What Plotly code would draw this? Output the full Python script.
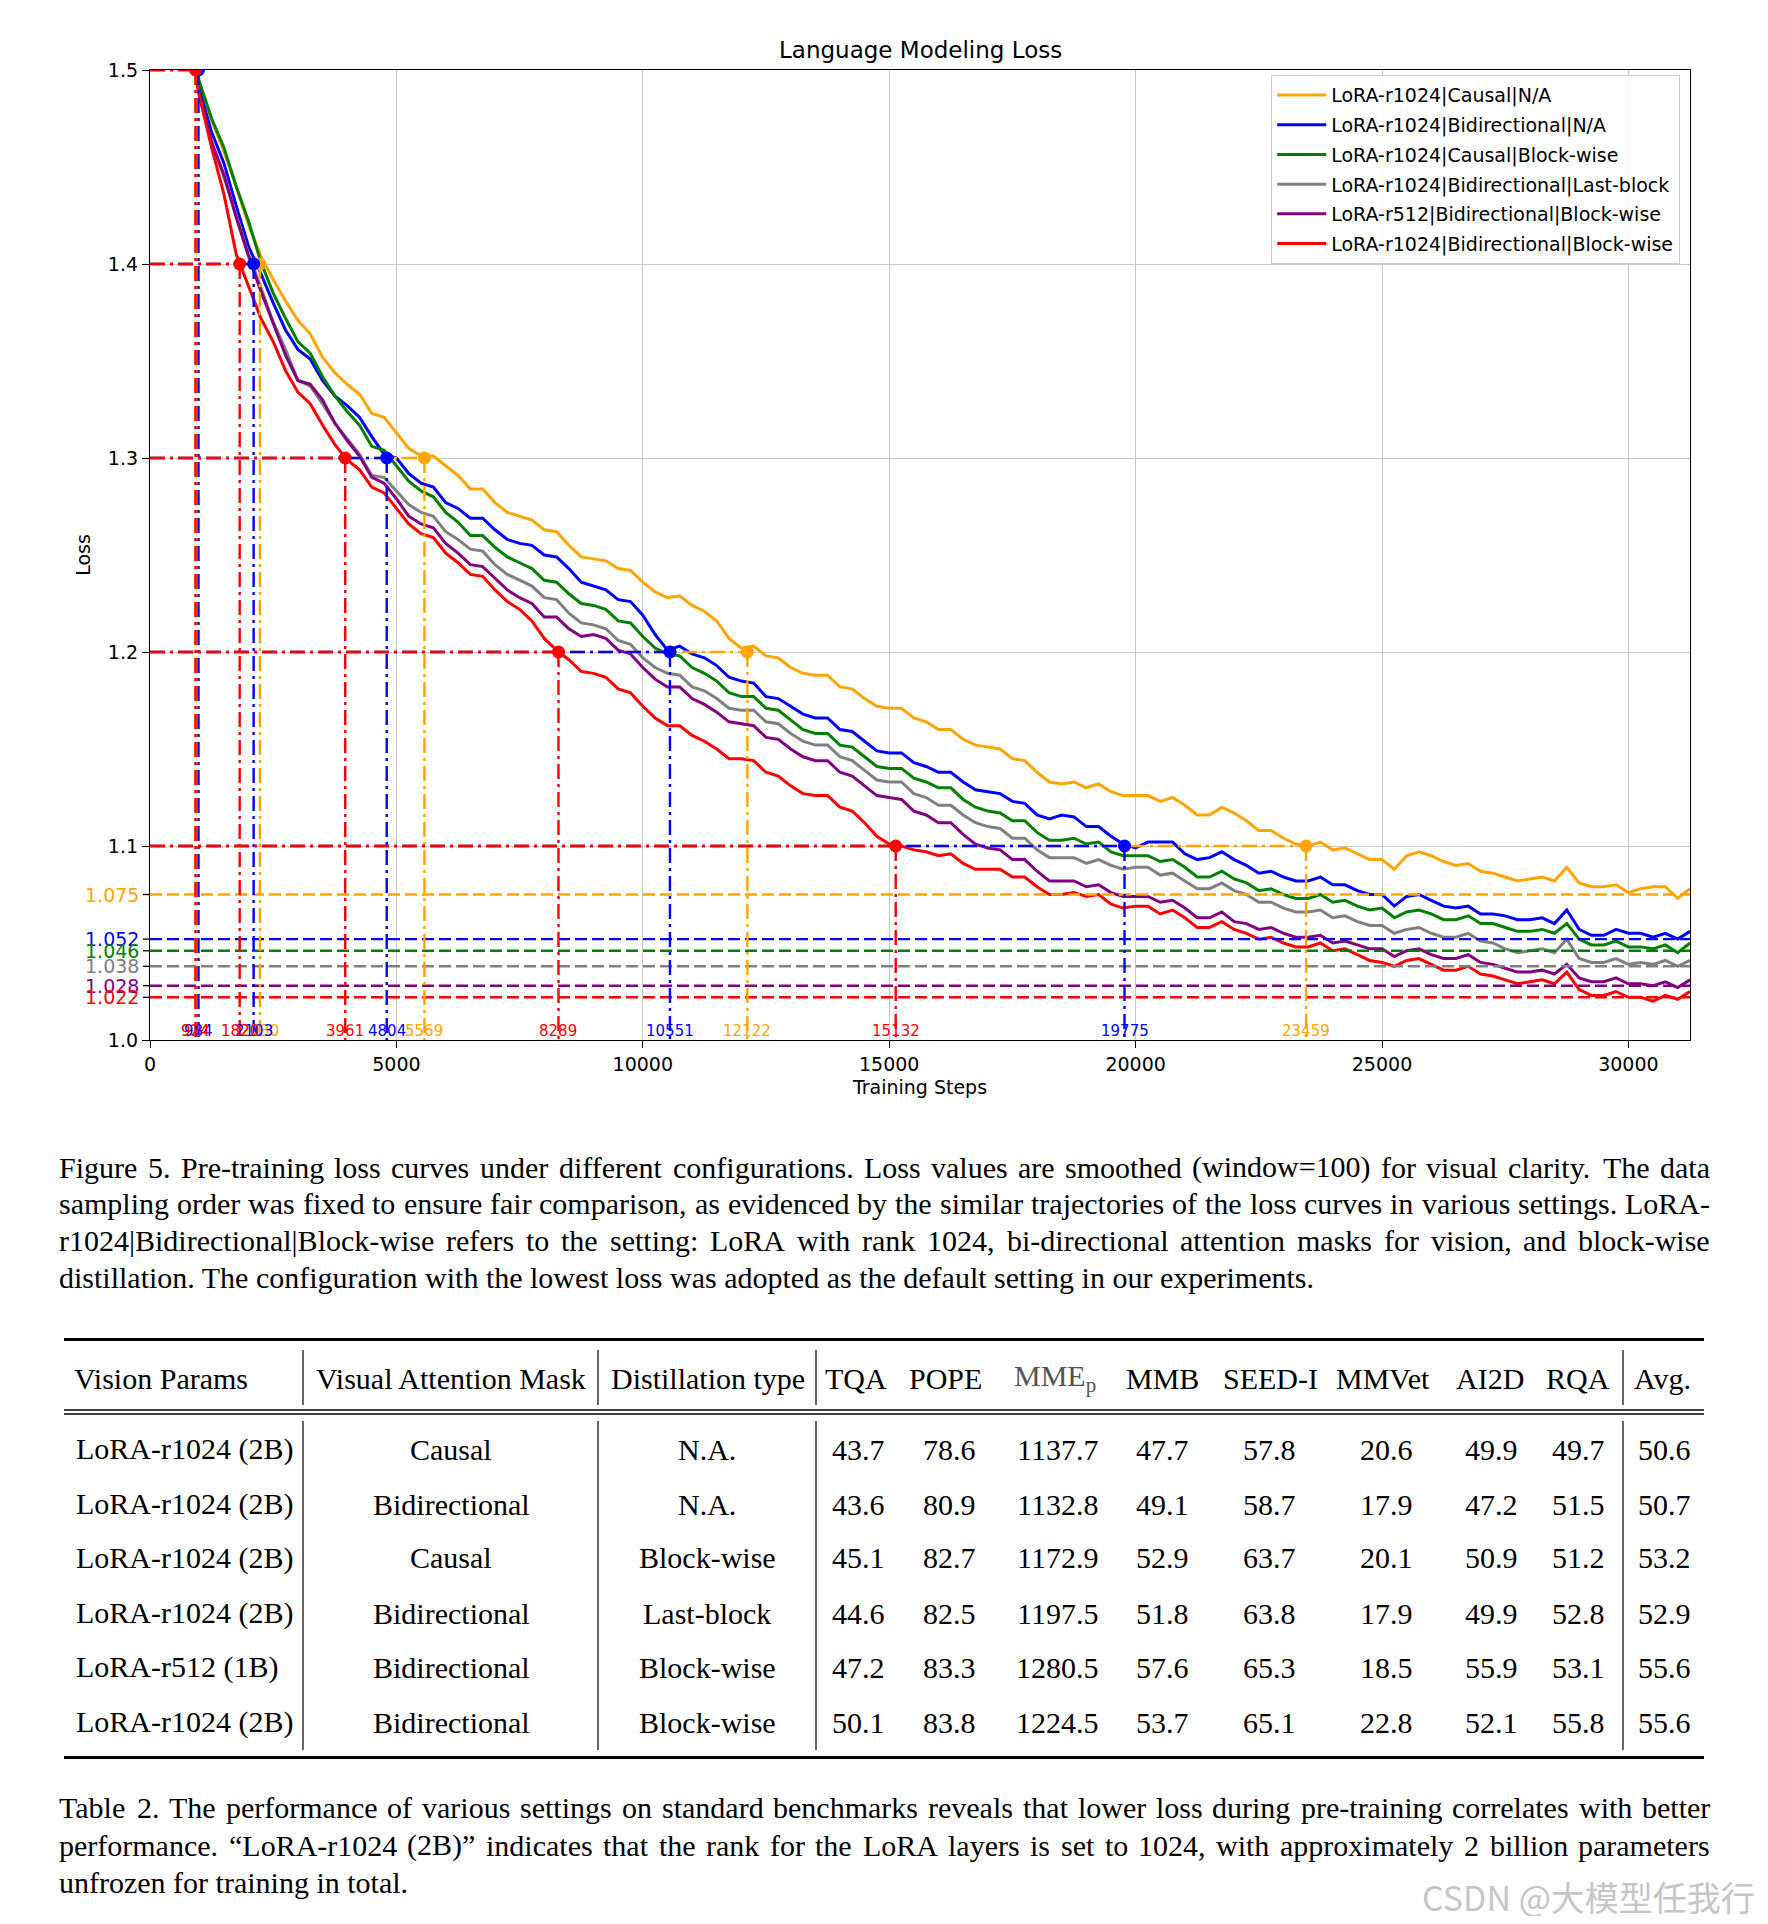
import plotly.graph_objects as go

# ---------------- data ----------------
steps = [924, 1000, 1250, 1500, 1750, 2000, 2250, 2500, 2750,
         3000, 3250, 3500, 3750, 4000, 4250, 4500, 4750,
         5000, 5250, 5500, 5750, 6000, 6250, 6500, 6750,
         7000, 7250, 7500, 7750, 8000, 8250, 8500, 8750,
         9000, 9250, 9500, 9750, 10000, 10250, 10500, 10750,
         11000, 11250, 11500, 11750, 12000, 12250, 12500, 12750,
         13000, 13250, 13500, 13750, 14000, 14250, 14500, 14750,
         15000, 15250, 15500, 15750, 16000, 16250, 16500, 16750,
         17000, 17250, 17500, 17750, 18000, 18250, 18500, 18750,
         19000, 19250, 19500, 19750, 20000, 20250, 20500, 20750,
         21000, 21250, 21500, 21750, 22000, 22250, 22500, 22750,
         23000, 23250, 23500, 23750, 24000, 24250, 24500, 24750,
         25000, 25250, 25500, 25750, 26000, 26250, 26500, 26750,
         27000, 27250, 27500, 27750, 28000, 28250, 28500, 28750,
         29000, 29250, 29500, 29750, 30000, 30250, 30500, 30750,
         31000, 31250]

loss_orange = [1.500, 1.493, 1.474, 1.458, 1.440, 1.420, 1.404, 1.392, 1.381,
               1.371, 1.364, 1.352, 1.344, 1.338, 1.333, 1.323, 1.321,
               1.313, 1.305, 1.301, 1.301, 1.296, 1.291, 1.284, 1.284,
               1.277, 1.272, 1.270, 1.268, 1.263, 1.262, 1.255, 1.249,
               1.248, 1.247, 1.243, 1.242, 1.236, 1.231, 1.228, 1.229,
               1.224, 1.221, 1.216, 1.207, 1.202, 1.203, 1.198, 1.197,
               1.192, 1.189, 1.188, 1.188, 1.182, 1.181, 1.176, 1.172,
               1.171, 1.171, 1.166, 1.164, 1.160, 1.160, 1.155, 1.152,
               1.151, 1.150, 1.145, 1.144, 1.138, 1.133, 1.132, 1.133,
               1.130, 1.132, 1.128, 1.126, 1.126, 1.126, 1.123, 1.125,
               1.121, 1.116, 1.116, 1.120, 1.117, 1.113, 1.108, 1.108,
               1.104, 1.101, 1.100, 1.102, 1.098, 1.099, 1.096, 1.093,
               1.093, 1.088, 1.095, 1.097, 1.095, 1.092, 1.090, 1.091,
               1.087, 1.086, 1.084, 1.082, 1.083, 1.084, 1.082, 1.089,
               1.081, 1.079, 1.079, 1.080, 1.076, 1.078, 1.079, 1.079,
               1.073, 1.078]

loss_blue = [1.500, 1.490, 1.468, 1.452, 1.430, 1.409, 1.395, 1.380, 1.366,
             1.356, 1.351, 1.340, 1.332, 1.327, 1.321, 1.311, 1.302,
             1.300, 1.292, 1.287, 1.285, 1.277, 1.274, 1.269, 1.269,
             1.263, 1.258, 1.256, 1.255, 1.250, 1.249, 1.243, 1.236,
             1.234, 1.232, 1.227, 1.226, 1.219, 1.209, 1.201, 1.203,
             1.199, 1.197, 1.193, 1.187, 1.185, 1.184, 1.177, 1.176,
             1.172, 1.168, 1.166, 1.166, 1.160, 1.159, 1.154, 1.149,
             1.148, 1.148, 1.143, 1.141, 1.138, 1.138, 1.133, 1.129,
             1.128, 1.127, 1.123, 1.122, 1.116, 1.114, 1.116, 1.115,
             1.110, 1.110, 1.105, 1.101, 1.099, 1.102, 1.102, 1.102,
             1.096, 1.093, 1.094, 1.097, 1.093, 1.090, 1.086, 1.087,
             1.084, 1.082, 1.082, 1.084, 1.080, 1.080, 1.077, 1.075,
             1.075, 1.069, 1.074, 1.075, 1.072, 1.069, 1.068, 1.069,
             1.065, 1.065, 1.064, 1.062, 1.062, 1.063, 1.060, 1.067,
             1.057, 1.054, 1.054, 1.057, 1.055, 1.055, 1.053, 1.055,
             1.052, 1.056]

loss_green = [1.500, 1.494, 1.475, 1.460, 1.440, 1.422, 1.401, 1.385, 1.372,
              1.360, 1.354, 1.342, 1.332, 1.324, 1.317, 1.306, 1.304,
              1.296, 1.288, 1.283, 1.280, 1.272, 1.267, 1.260, 1.260,
              1.254, 1.249, 1.246, 1.243, 1.237, 1.236, 1.230, 1.225,
              1.224, 1.222, 1.216, 1.215, 1.208, 1.202, 1.199, 1.198,
              1.192, 1.189, 1.185, 1.179, 1.177, 1.177, 1.171, 1.170,
              1.165, 1.160, 1.158, 1.158, 1.152, 1.151, 1.146, 1.141,
              1.140, 1.140, 1.135, 1.133, 1.130, 1.130, 1.124, 1.120,
              1.118, 1.117, 1.113, 1.113, 1.107, 1.103, 1.103, 1.104,
              1.101, 1.102, 1.097, 1.095, 1.095, 1.095, 1.092, 1.093,
              1.089, 1.084, 1.084, 1.087, 1.083, 1.081, 1.077, 1.078,
              1.075, 1.073, 1.073, 1.075, 1.071, 1.072, 1.069, 1.067,
              1.068, 1.063, 1.066, 1.067, 1.065, 1.062, 1.062, 1.064,
              1.060, 1.060, 1.058, 1.056, 1.056, 1.057, 1.055, 1.060,
              1.052, 1.049, 1.049, 1.051, 1.048, 1.048, 1.047, 1.049,
              1.045, 1.050]

loss_gray = [1.498, 1.487, 1.462, 1.445, 1.425, 1.405, 1.388, 1.370, 1.356,
             1.340, 1.337, 1.328, 1.318, 1.310, 1.302, 1.291, 1.290,
             1.283, 1.276, 1.272, 1.270, 1.262, 1.258, 1.253, 1.252,
             1.245, 1.240, 1.237, 1.234, 1.228, 1.227, 1.220, 1.215,
             1.214, 1.212, 1.206, 1.204, 1.197, 1.192, 1.189, 1.188,
             1.182, 1.180, 1.176, 1.171, 1.170, 1.170, 1.164, 1.163,
             1.158, 1.154, 1.152, 1.152, 1.146, 1.144, 1.139, 1.134,
             1.133, 1.133, 1.127, 1.125, 1.121, 1.121, 1.116, 1.112,
             1.110, 1.109, 1.104, 1.104, 1.098, 1.094, 1.094, 1.094,
             1.091, 1.093, 1.090, 1.088, 1.089, 1.089, 1.085, 1.086,
             1.082, 1.078, 1.078, 1.081, 1.077, 1.075, 1.071, 1.071,
             1.068, 1.066, 1.066, 1.067, 1.063, 1.064, 1.061, 1.059,
             1.059, 1.055, 1.057, 1.058, 1.055, 1.053, 1.053, 1.055,
             1.051, 1.050, 1.047, 1.045, 1.046, 1.047, 1.045, 1.052,
             1.042, 1.040, 1.040, 1.042, 1.039, 1.040, 1.039, 1.041,
             1.038, 1.041]

loss_purple = [1.499, 1.487, 1.463, 1.446, 1.424, 1.404, 1.386, 1.370, 1.353,
               1.340, 1.338, 1.330, 1.318, 1.309, 1.301, 1.290, 1.287,
               1.279, 1.270, 1.266, 1.264, 1.256, 1.251, 1.245, 1.244,
               1.238, 1.232, 1.228, 1.225, 1.218, 1.218, 1.212, 1.208,
               1.209, 1.207, 1.201, 1.199, 1.192, 1.186, 1.182, 1.182,
               1.176, 1.173, 1.169, 1.164, 1.163, 1.162, 1.156, 1.155,
               1.150, 1.146, 1.144, 1.144, 1.138, 1.136, 1.131, 1.126,
               1.125, 1.124, 1.118, 1.116, 1.112, 1.112, 1.106, 1.101,
               1.099, 1.098, 1.093, 1.093, 1.087, 1.082, 1.082, 1.082,
               1.079, 1.080, 1.076, 1.074, 1.074, 1.074, 1.071, 1.072,
               1.068, 1.063, 1.063, 1.066, 1.061, 1.060, 1.057, 1.058,
               1.055, 1.053, 1.053, 1.054, 1.050, 1.051, 1.049, 1.047,
               1.047, 1.043, 1.046, 1.047, 1.044, 1.042, 1.042, 1.044,
               1.040, 1.039, 1.037, 1.035, 1.035, 1.036, 1.034, 1.039,
               1.032, 1.030, 1.030, 1.032, 1.029, 1.029, 1.028, 1.030,
               1.027, 1.031]

loss_red = [1.500, 1.487, 1.460, 1.436, 1.405, 1.389, 1.372, 1.360, 1.345,
            1.334, 1.328, 1.317, 1.307, 1.299, 1.294, 1.285, 1.282,
            1.274, 1.266, 1.261, 1.259, 1.251, 1.246, 1.240, 1.239,
            1.232, 1.226, 1.222, 1.216, 1.207, 1.201, 1.196, 1.190,
            1.189, 1.187, 1.181, 1.179, 1.172, 1.166, 1.162, 1.162,
            1.157, 1.154, 1.150, 1.145, 1.145, 1.144, 1.138, 1.136,
            1.131, 1.127, 1.126, 1.126, 1.120, 1.118, 1.112, 1.105,
            1.101, 1.100, 1.098, 1.097, 1.095, 1.096, 1.091, 1.088,
            1.088, 1.088, 1.084, 1.084, 1.079, 1.075, 1.075, 1.076,
            1.074, 1.075, 1.070, 1.068, 1.069, 1.069, 1.065, 1.067,
            1.063, 1.058, 1.058, 1.061, 1.057, 1.055, 1.052, 1.053,
            1.050, 1.048, 1.048, 1.050, 1.046, 1.047, 1.044, 1.041,
            1.040, 1.038, 1.041, 1.042, 1.039, 1.036, 1.036, 1.038,
            1.034, 1.033, 1.031, 1.029, 1.030, 1.031, 1.029, 1.035,
            1.026, 1.023, 1.023, 1.025, 1.022, 1.022, 1.020, 1.023,
            1.021, 1.025]

series_names = ["LoRA-r1024|Causal|N/A", "LoRA-r1024|Bidirectional|N/A",
                "LoRA-r1024|Causal|Block-wise", "LoRA-r1024|Bidirectional|Last-block",
                "LoRA-r512|Bidirectional|Block-wise", "LoRA-r1024|Bidirectional|Block-wise"]
series_colors = ["#FFA500", "#0000FF", "#008000", "#808080", "#800080", "#FF0000"]
series_values = [loss_orange, loss_blue, loss_green, loss_gray, loss_purple, loss_red]
for _v in series_values:
    if len(_v) != len(steps):
        raise ValueError("series length %d != steps length %d" % (len(_v), len(steps)))

final_losses = [1.075, 1.052, 1.046, 1.038, 1.028, 1.022]
final_labels = ["1.075", "1.052", "1.046", "1.038", "1.028", "1.022"]

thresholds = [1.5, 1.4, 1.3, 1.2, 1.1]
cross_orange = [924, 2230, 5569, 12122, 23459]
cross_blue = [984, 2103, 4804, 10551, 19775]
cross_red = [924, 1820, 3961, 8289, 15132]
crossings = [(cross_orange, "#FFA500"), (cross_blue, "#0000FF"), (cross_red, "#FF0000")]

x_max = 31250
x_ticks = [0, 5000, 10000, 15000, 20000, 25000, 30000]
y_ticks = [1.0, 1.1, 1.2, 1.3, 1.4, 1.5]
y_tick_labels = ["1.0", "1.1", "1.2", "1.3", "1.4", "1.5"]

table_header = ["Vision Params", "Visual Attention Mask", "Distillation type", "TQA", "POPE",
                "MME<sub>p</sub>", "MMB", "SEED-I", "MMVet", "AI2D", "RQA", "Avg."]
col_vision = ["LoRA-r1024 (2B)", "LoRA-r1024 (2B)", "LoRA-r1024 (2B)", "LoRA-r1024 (2B)",
              "LoRA-r512 (1B)", "LoRA-r1024 (2B)"]
col_mask = ["Causal", "Bidirectional", "Causal", "Bidirectional", "Bidirectional", "Bidirectional"]
col_distill = ["N.A.", "N.A.", "Block-wise", "Last-block", "Block-wise", "Block-wise"]
col_tqa = ["43.7", "43.6", "45.1", "44.6", "47.2", "50.1"]
col_pope = ["78.6", "80.9", "82.7", "82.5", "83.3", "83.8"]
col_mme = ["1137.7", "1132.8", "1172.9", "1197.5", "1280.5", "1224.5"]
col_mmb = ["47.7", "49.1", "52.9", "51.8", "57.6", "53.7"]
col_seed = ["57.8", "58.7", "63.7", "63.8", "65.3", "65.1"]
col_mmvet = ["20.6", "17.9", "20.1", "17.9", "18.5", "22.8"]
col_ai2d = ["49.9", "47.2", "50.9", "49.9", "55.9", "52.1"]
col_rqa = ["49.7", "51.5", "51.2", "52.8", "53.1", "55.8"]
col_avg = ["50.6", "50.7", "53.2", "52.9", "55.6", "55.6"]
table_cols = [col_vision, col_mask, col_distill, col_tqa, col_pope, col_mme, col_mmb,
              col_seed, col_mmvet, col_ai2d, col_rqa, col_avg]

caption_fig = [
    "Figure 5.  Pre-training loss curves under different configurations.  Loss values are smoothed (window=100) for visual clarity.  The data",
    "sampling order was fixed to ensure fair comparison, as evidenced by the similar trajectories of the loss curves in various settings. LoRA-",
    "r1024|Bidirectional|Block-wise refers to the setting:  LoRA with rank 1024, bi-directional attention masks for vision, and block-wise",
    "distillation. The configuration with the lowest loss was adopted as the default setting in our experiments.",
]
caption_tab = [
    "Table 2.  The performance of various settings on standard benchmarks reveals that lower loss during pre-training correlates with better",
    "performance.  \u201cLoRA-r1024 (2B)\u201d indicates that the rank for the LoRA layers is set to 1024, with approximately 2 billion parameters",
    "unfrozen for training in total.",
]
watermark = "CSDN @大模型任我行"

# ---------------- layout constants (reference pixels) ----------------
OFF = 8                      # page body margin
FW, FH = 1768 - 2 * OFF, 1924 - 2 * OFF
PL, PR, PT, PB = 150, 1690, 70, 1040


def xp(px):
    return (px - PL) / (PR - PL)


def yp(py):
    return (PB - py) / (PB - PT)


SERIF = "Liberation Serif"
SANS = "DejaVu Sans"
TICK = 19

fig = go.Figure()

for name, color, vals in zip(series_names, series_colors, series_values):
    fig.add_trace(go.Scatter(x=steps, y=vals, mode="lines", name=name,
                             line=dict(color=color, width=3),
                             legendgroup=name, showlegend=True))

for color, v in zip(series_colors, final_losses):
    fig.add_trace(go.Scatter(x=[0, x_max], y=[v, v], mode="lines", showlegend=False,
                             line=dict(color=color, width=2.4, dash="12px,5px"), hoverinfo="skip"))

for cross, color in crossings:
    xs, ys = [], []
    for s, t in zip(cross, thresholds):
        xs += [0, s, None, s, s, None]
        ys += [t, t, None, t, 1.0, None]
    fig.add_trace(go.Scatter(x=xs, y=ys, mode="lines", showlegend=False, hoverinfo="skip",
                             line=dict(color=color, width=2.4, dash="15px,5px,3px,5px")))
for cross, color in crossings:
    fig.add_trace(go.Scatter(x=cross, y=thresholds, mode="markers", showlegend=False,
                             marker=dict(color=color, size=13), hoverinfo="skip"))

annotations = []
shapes = []

for cross, color in crossings:
    for s in cross:
        annotations.append(dict(x=s, y=1.0, xref="x", yref="y", text=str(s), showarrow=False,
                                xanchor="center", yanchor="bottom", yshift=-2,
                                font=dict(family=SANS, size=15, color=color)))

for color, v, lab in zip(series_colors, final_losses, final_labels):
    annotations.append(dict(x=0, y=v, xref="paper", yref="y", text=lab, showarrow=False,
                            xanchor="right", yanchor="middle", xshift=-9,
                            font=dict(family=SANS, size=TICK, color=color)))
    shapes.append(dict(type="line", xref="paper", yref="y", x0=xp(PL - 7), x1=0, y0=v, y1=v,
                       line=dict(color="black", width=1.3)))

annotations.append(dict(x=0.5, y=yp(50), xref="paper", yref="paper", text="Language Modeling Loss",
                        showarrow=False, xanchor="center", yanchor="middle",
                        font=dict(family=SANS, size=23, color="black")))

# ---------------- justified captions ----------------
TW = {' ': 250, '!': 333, '"': 408, '%': 833, '&': 778, "'": 333, '(': 333, ')': 333, '*': 500,
      '+': 564, ',': 250, '-': 333, '.': 250, '/': 278, ':': 278, ';': 278, '=': 564, '?': 444,
      '@': 921, '|': 200, '\u201c': 444, '\u201d': 444,
      'A': 722, 'B': 667, 'C': 667, 'D': 722, 'E': 611, 'F': 556, 'G': 722, 'H': 722, 'I': 333,
      'J': 389, 'K': 722, 'L': 611, 'M': 889, 'N': 722, 'O': 722, 'P': 556, 'Q': 722, 'R': 667,
      'S': 556, 'T': 611, 'U': 722, 'V': 722, 'W': 944, 'X': 722, 'Y': 722, 'Z': 611,
      'a': 444, 'b': 500, 'c': 444, 'd': 500, 'e': 444, 'f': 333, 'g': 500, 'h': 500, 'i': 278,
      'j': 278, 'k': 500, 'l': 278, 'm': 778, 'n': 500, 'o': 500, 'p': 500, 'q': 500, 'r': 333,
      's': 389, 't': 278, 'u': 500, 'v': 500, 'w': 722, 'x': 500, 'y': 500, 'z': 444}
CAP_SIZE = 30
CAP_LEFT, CAP_RIGHT = 58, 1709


def text_w(s, size):
    return sum(TW.get(c, 500) for c in s) * size / 1000.0


def add_paragraph(lines, y_first, dy):
    for i, line in enumerate(lines):
        y = y_first + i * dy
        if i == len(lines) - 1:
            annotations.append(dict(x=xp(CAP_LEFT), y=yp(y), xref="paper", yref="paper", text=line,
                                    showarrow=False, xanchor="left", yanchor="middle", borderpad=0,
                                    font=dict(family=SERIF, size=CAP_SIZE, color="black")))
            continue
        words = line.split()
        total = sum(text_w(w, CAP_SIZE) for w in words)
        gap = (CAP_RIGHT - CAP_LEFT - total) / (len(words) - 1)
        x = CAP_LEFT
        for w in words:
            annotations.append(dict(x=xp(x), y=yp(y), xref="paper", yref="paper", text=w,
                                    showarrow=False, xanchor="left", yanchor="middle", borderpad=0,
                                    font=dict(family=SERIF, size=CAP_SIZE, color="black")))
            x += text_w(w, CAP_SIZE) + gap


add_paragraph(caption_fig, 1167, 36.8)
add_paragraph(caption_tab, 1808, 37)

# ---------------- table ----------------
col_x = [74, 451, 707, 858, 949, 1057, 1162, 1269, 1386, 1491, 1578, 1664]
head_x = [72, 451, 708, 856, 946, 1055, 1162, 1270, 1383, 1490, 1578, 1662]
head_y = 1378
row_y = [1449, 1504, 1558, 1613, 1667, 1722]
TAB_SIZE = 30

for j, h in enumerate(table_header):
    annotations.append(dict(x=xp(head_x[j]), y=yp(head_y), xref="paper", yref="paper", text=h,
                            showarrow=False, xanchor="left" if j == 0 else "center", yanchor="middle",
                            font=dict(family=SERIF, size=TAB_SIZE,
                                      color="#555555" if j == 5 else "black")))
for j, col in enumerate(table_cols):
    for i, val in enumerate(col):
        annotations.append(dict(x=xp(col_x[j]), y=yp(row_y[i]), xref="paper", yref="paper", text=val,
                                showarrow=False, xanchor="left" if j == 0 else "center",
                                yanchor="middle", font=dict(family=SERIF, size=TAB_SIZE, color="black")))

T_L, T_R = 64, 1704


def hline(y, w):
    shapes.append(dict(type="line", xref="paper", yref="paper", x0=xp(T_L), x1=xp(T_R),
                       y0=yp(y), y1=yp(y), line=dict(color="black", width=w)))


hline(1339.5, 3)
hline(1410, 1.3)
hline(1414, 1.3)
hline(1757.5, 3)
for vx in [303, 598, 816, 1623]:
    for (a, b) in [(1350, 1405), (1421, 1750)]:
        shapes.append(dict(type="line", xref="paper", yref="paper", x0=xp(vx), x1=xp(vx),
                           y0=yp(a), y1=yp(b), line=dict(color="black", width=1.2)))

annotations.append(dict(x=xp(1757), y=yp(1896), xref="paper", yref="paper", text=watermark,
                        showarrow=False, xanchor="right", yanchor="middle",
                        font=dict(family="Noto Sans CJK SC", size=34, color="#c6c6c6")))

fig.update_layout(
    width=FW, height=FH,
    margin=dict(l=PL - OFF, r=FW - (PR - OFF), t=PT - OFF, b=FH - (PB - OFF), pad=0),
    plot_bgcolor="white", paper_bgcolor="white",
    font=dict(family=SANS, size=TICK, color="black"),
    legend=dict(x=xp(1680), xanchor="right", y=yp(75), yanchor="top",
                bgcolor="rgba(255,255,255,0.85)", bordercolor="#cccccc", borderwidth=1.2,
                font=dict(family=SANS, size=TICK, color="black"), tracegroupgap=2, itemwidth=49),
    annotations=annotations,
    shapes=shapes,
)
fig.update_xaxes(range=[0, x_max], tickvals=x_ticks, ticktext=[str(v) for v in x_ticks],
                 ticks="outside", ticklen=7, tickwidth=1.3, tickcolor="black",
                 showline=True, linewidth=1.3, linecolor="black", mirror=True,
                 showgrid=True, gridcolor="#c8c8c8", gridwidth=1, zeroline=False,
                 tickfont=dict(family=SANS, size=TICK, color="black"),
                 title=dict(text="Training Steps", standoff=6, font=dict(family=SANS, size=TICK)))
fig.update_yaxes(range=[1.0, 1.5], tickvals=y_ticks, ticktext=y_tick_labels,
                 ticks="outside", ticklen=7, tickwidth=1.3, tickcolor="black",
                 showline=True, linewidth=1.3, linecolor="black", mirror=True,
                 showgrid=True, gridcolor="#c8c8c8", gridwidth=1, zeroline=False,
                 tickfont=dict(family=SANS, size=TICK, color="black"),
                 title=dict(text="Loss", standoff=12, font=dict(family=SANS, size=TICK)))

fig.write_html("out.html")
